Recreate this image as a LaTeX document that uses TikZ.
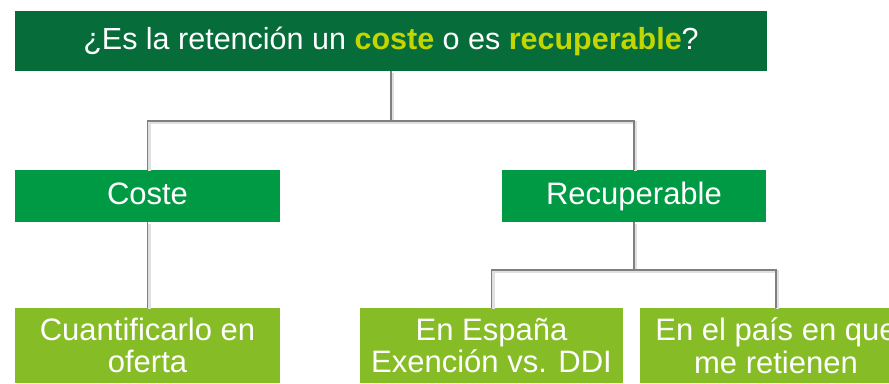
\documentclass[tikz,border=0pt]{standalone}
\usepackage{fontspec}
\setmainfont{Liberation Sans}
\definecolor{dkgreen}{HTML}{066C3A}
\definecolor{mdgreen}{HTML}{009A44}
\definecolor{ltgreen}{HTML}{86BC25}
\definecolor{hilite}{HTML}{C4D600}
\definecolor{linegray}{HTML}{808080}
\begin{document}
\begin{tikzpicture}[x=1pt,y=-1pt,
  box/.style={rectangle,inner sep=0pt,text=white,align=center,font=\fontsize{31}{32.5}\selectfont},
  single/.style={text height=22pt,text depth=6pt},
  conn/.style={draw=linegray,line width=1.5pt},
  shadowline/.style={draw=black!12,line width=3pt,transform canvas={xshift=1.5pt,yshift=-1.5pt}}]
\useasboundingbox (0,0) rectangle (889,383);
\clip (0,0) rectangle (889,383);
\node[box,single,fill=dkgreen,minimum width=752pt,minimum height=60pt,font=\fontsize{30.5}{32}\selectfont] (top) at (391,41)
  {¿Es la retención un \textcolor{hilite}{\textbf{coste}} o es \textcolor{hilite}{\textbf{recuperable}}?};
\node[box,single,fill=mdgreen,minimum width=265pt,minimum height=52pt] (coste) at (147.5,196) {Coste};
\node[box,single,fill=mdgreen,minimum width=264pt,minimum height=52pt] (rec) at (634,196) {Recuperable};
\node[box,fill=ltgreen,minimum width=265pt,minimum height=75pt] (cuant) at (147.5,345.5) {Cuantificarlo en\\oferta};
\node[box,fill=ltgreen,minimum width=263pt,minimum height=75pt] (esp) at (491.5,345.5) {En España\\Exención vs. DDI};
\node[box,fill=ltgreen,minimum width=272pt,minimum height=75pt] (pais) at (776,345.5) {En el país en que\\me retienen};
\coordinate (j1) at (391,121);
\coordinate (j2) at (634,270);
\foreach \s in {shadowline,conn}{
  \draw[\s] (top.south) -- (j1);
  \draw[\s] (coste.north) |- (j1) -| (rec.north);
  \draw[\s] (coste.south) -- (cuant.north);
  \draw[\s] (rec.south) -- (j2);
  \draw[\s] (esp.north) |- (j2) -| (pais.north);
}
\end{tikzpicture}
\end{document}
